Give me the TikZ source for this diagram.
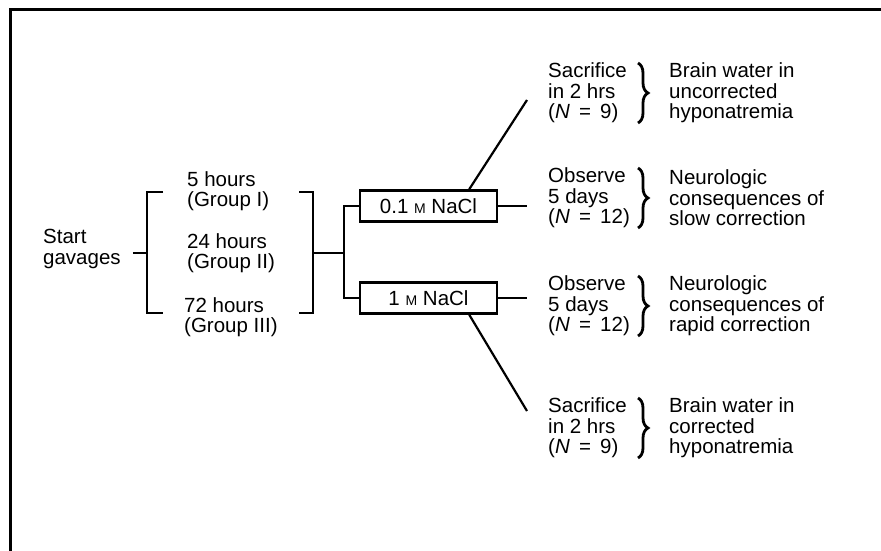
\documentclass[tikz,border=0pt]{standalone}
\usepackage{fontspec}
\setmainfont{Liberation Sans}
\usetikzlibrary{calc,positioning,decorations.pathreplacing}

\tikzset{
  txt/.style={inner sep=0pt,font=\fontsize{20.5}{20.5}\selectfont,align=left,anchor=west},
  nacl/.style={draw,line width=2.4pt,minimum width=137pt,minimum height=31pt,
    inner sep=0pt,font=\fontsize{20.5}{20.5}\selectfont},
  wire/.style={line width=2.2pt},
  brc/.style={decorate,decoration={brace,amplitude=10pt},line width=2.8pt}
}
\newcommand{\molar}{{\fontsize{14}{14}\selectfont M}}
\newcommand{\eqsp}{\hspace{0.45em}=\hspace{0.45em}}

\begin{document}
\begin{tikzpicture}[x=1pt,y=1pt]
\useasboundingbox (0,0) rectangle (881,-551);

% frame
\draw[line width=3.5pt] (10.5,-551) -- (10.5,-9.5) -- (881,-9.5);

% start and groups
\node[txt] (start) at (43,-249) {Start\\gavages};
\node[txt] (g1) at (187,-191) {5 hours\\(Group I)};
\node[txt] (g2) at (187,-253) {24 hours\\(Group II)};
\node[txt] (g3) at (184,-317) {72 hours\\(Group III)};

\coordinate (lb) at (147,-253);
\coordinate (rb) at (313,-253);
\coordinate (fork) at (344,-253);

\draw[wire] (163,-192) -- (147,-192) -- (147,-313) -- (163,-313);
\draw[wire] (299,-192) -- (313,-192) -- (313,-313) -- (299,-313);
\draw[wire,shorten <=12pt] (start.east |- lb) -- (lb);
\draw[wire] (rb) -- (fork);

% the two solutions
\node[nacl] (lo) at (428.5,-206) {0.1 \molar{} NaCl};
\node[nacl] (hi) at (428.5,-298) {1 \molar{} NaCl};
\draw[wire] (lo.west) -| (fork) |- (hi.west);

% outcomes
\node[txt] (s1) at (548,-93) {Sacrifice\\in 2 hrs\\(\textit{N}\eqsp9)};
\node[txt] (o1) at (548,-198) {Observe\\5 days\\(\textit{N}\eqsp12)};
\node[txt] (o2) at (548,-306) {Observe\\5 days\\(\textit{N}\eqsp12)};
\node[txt] (s2) at (548,-428) {Sacrifice\\in 2 hrs\\(\textit{N}\eqsp9)};

\node[txt] (r1) at (669,-93) {Brain water in\\uncorrected\\hyponatremia};
\node[txt] (r2) at (669,-198) {Neurologic\\consequences of\\slow correction};
\node[txt] (r3) at (669,-306) {Neurologic\\consequences of\\rapid correction};
\node[txt] (r4) at (669,-428) {Brain water in\\corrected\\hyponatremia};

\coordinate (t1) at (527,-100);
\coordinate (e1) at (527,-206);
\coordinate (e2) at (527,-298);
\coordinate (t2) at (527,-411);

\draw[wire] ($(lo.north east)+(-29,0)$) -- (t1);
\draw[wire] (lo.east) -- (e1);
\draw[wire] (hi.east) -- (e2);
\draw[wire] ($(hi.south east)+(-29,0)$) -- (t2);

% braces
\foreach \r in {r1,r2,r3,r4}
  \draw[brc] ($(\r.west)+(-31,30)$) -- ($(\r.west)+(-31,-30)$);

\end{tikzpicture}
\end{document}
